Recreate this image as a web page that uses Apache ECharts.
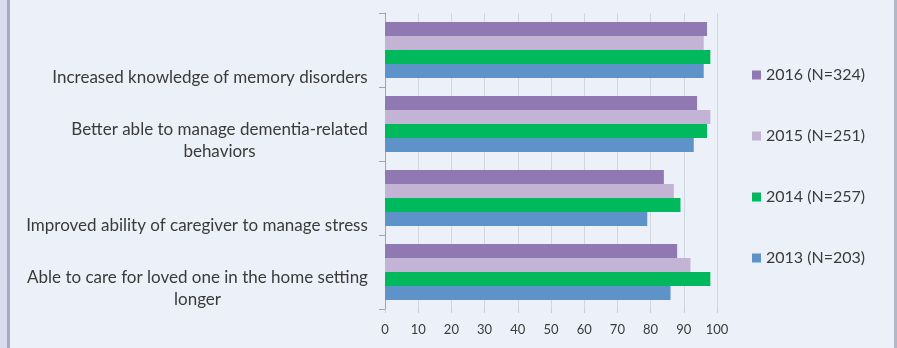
<!DOCTYPE html>
<html>
<head>
<meta charset="utf-8">
<script src="https://cdn.jsdelivr.net/npm/echarts@6/dist/echarts.min.js"></script>
<style>
  html, body { margin: 0; padding: 0; background: #ECF0F8; }
  #main { width: 897px; height: 348px; }
</style>
</head>
<body>
<div id="main"></div>
<script>
var chartDom = document.getElementById('main');
var myChart = echarts.init(chartDom);
var option;

// categories listed bottom -> top
var categories = [
  'Able to care for loved one in the home setting\nlonger',
  'Improved ability of caregiver to manage stress',
  'Better able to manage dementia-related\nbehaviors',
  'Increased knowledge of memory disorders'
];
var seriesNames = ['2016 (N=324)', '2015 (N=251)', '2014 (N=257)', '2013 (N=203)'];
var data2016 = [88, 84, 94, 97];
var data2015 = [92, 87, 98, 96];
var data2014 = [98, 89, 97, 98];
var data2013 = [86, 79, 93, 96];
var xTicks = [0, 10, 20, 30, 40, 50, 60, 70, 80, 90, 100];

var colors = ['#9079B2', '#C3B4D6', '#00B95C', '#5D93C8'];
var labelFont = 'Lato';
var labelSize = 17;

// measure first line so wrapped lines center under it (like Excel)
var ctx = document.createElement('canvas').getContext('2d');
ctx.font = labelSize + 'px ' + labelFont;
var rich = {};
categories.forEach(function (c, i) {
  var w = 0;
  c.split('\n').forEach(function (l) {
    w = Math.max(w, ctx.measureText(l).width);
  });
  rich['c' + i] = {
    width: Math.ceil(w),
    align: 'center',
    fontFamily: labelFont,
    fontSize: labelSize,
    lineHeight: 22,
    color: '#3A3A3A'
  };
});

var allData = [data2016, data2015, data2014, data2013];

option = {
  backgroundColor: '#ECF0F8',
  animation: false,
  graphic: [
    { type: 'rect', shape: { x: 0, y: 0, width: 7, height: 348 }, style: { fill: '#D9DBEF' } },
    { type: 'rect', shape: { x: 7, y: 0, width: 3, height: 348 }, style: { fill: '#A8AABD' } },
    { type: 'rect', shape: { x: 894, y: 0, width: 3, height: 348 }, style: { fill: '#B4B8C6' } }
  ],
  legend: {
    orient: 'vertical',
    left: 747,
    top: 62,
    itemWidth: 9,
    itemHeight: 9,
    itemGap: 45,
    icon: 'rect',
    data: seriesNames,
    textStyle: { fontFamily: labelFont, fontSize: 16, color: '#3A3A3A' }
  },
  grid: {
    left: 385,
    right: 180,
    top: 13,
    bottom: 39,
    containLabel: false
  },
  xAxis: {
    type: 'value',
    min: xTicks[0],
    max: xTicks[xTicks.length - 1],
    interval: 10,
    axisLine: { show: false },
    axisTick: { show: true, length: 4, lineStyle: { color: '#C8CCD6' } },
    splitLine: { show: true, lineStyle: { color: '#D2D6DF', width: 1 } },
    axisLabel: { fontFamily: labelFont, fontSize: 13, color: '#3A3A3A', margin: 14 }
  },
  yAxis: {
    type: 'category',
    data: categories,
    axisLine: { show: true, lineStyle: { color: '#A0A4AE' } },
    axisTick: { show: true, length: 6, lineStyle: { color: '#A0A4AE' } },
    axisLabel: {
      margin: 17,
      verticalAlign: 'bottom',
      padding: [0, 0, -39, 0],
      formatter: function (value, index) {
        return value.split('\n').map(function (l) {
          return '{c' + index + '|' + l + '}';
        }).join('\n');
      },
      rich: rich
    }
  },
  series: seriesNames.map(function (name, i) {
    return {
      name: name,
      type: 'bar',
      barWidth: 14,
      barGap: '0%',
      itemStyle: { color: colors[i] },
      data: allData[i]
    };
  })
};

option && myChart.setOption(option);
</script>
</body>
</html>
